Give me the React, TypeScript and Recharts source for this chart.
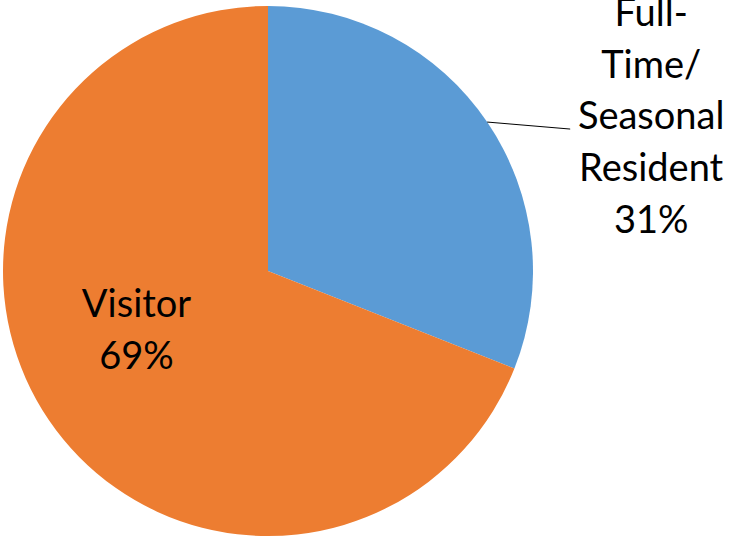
import React from 'react';
import { PieChart, Pie, Cell } from 'recharts';

const categories = ['Full-Time/ Seasonal Resident', 'Visitor'];
const values = [31, 69];
const labelLines = [['Full-', 'Time/', 'Seasonal', 'Resident', '31%'], ['Visitor', '69%']];
const colors = ['#5B9BD5', '#ED7D31'];

const data = categories.map((name, i) => ({ name, value: values[i] }));

const RAD = Math.PI / 180;
const FONT = 'Lato, "Open Sans", sans-serif';
const FS = 38;
const LH = 51.7;

const renderLabel = (props: any) => {
  const { cx, cy, midAngle, outerRadius, index } = props;
  const cos = Math.cos(-midAngle * RAD);
  const sin = Math.sin(-midAngle * RAD);
  const lines = labelLines[index];
  if (index === 0) {
    const sx = cx + outerRadius * cos;
    const sy = cy + outerRadius * sin;
    const ex = sx + 83;
    const ey = sy + 7;
    const tx = ex + 81;
    const baseY = ey - 103;
    return (
      <g>
        <path d={`M${sx},${sy}L${ex},${ey}`} stroke="#000" strokeWidth={1} fill="none" />
        <text x={tx} y={baseY} fill="#000" fontFamily={FONT} fontSize={FS} textAnchor="middle">
          {lines.map((l, i) => (
            <tspan key={i} x={tx} y={baseY + i * LH}>{l}</tspan>
          ))}
        </text>
      </g>
    );
  }
  const r = outerRadius * 0.6;
  const tx = cx + r * cos;
  const ty = cy + r * sin - 43;
  return (
    <text x={tx} y={ty} fill="#000" fontFamily={FONT} fontSize={FS} textAnchor="middle">
      {lines.map((l, i) => (
        <tspan key={i} x={tx} y={ty + i * LH}>{l}</tspan>
      ))}
    </text>
  );
};

export default function App() {
  return (
    <div style={{ position: 'absolute', left: 0, top: 0, width: 731, height: 537, background: '#fff' }}>
      <PieChart width={731} height={537} margin={{ top: 0, right: 0, bottom: 0, left: 0 }}>
        <Pie
          data={data}
          dataKey="value"
          nameKey="name"
          cx={268}
          cy={271}
          outerRadius={265}
          startAngle={90}
          endAngle={-270}
          stroke="none"
          label={renderLabel}
          labelLine={false}
          isAnimationActive={false}
        >
          {data.map((d, i) => (
            <Cell key={d.name} fill={colors[i]} />
          ))}
        </Pie>
      </PieChart>
    </div>
  );
}
